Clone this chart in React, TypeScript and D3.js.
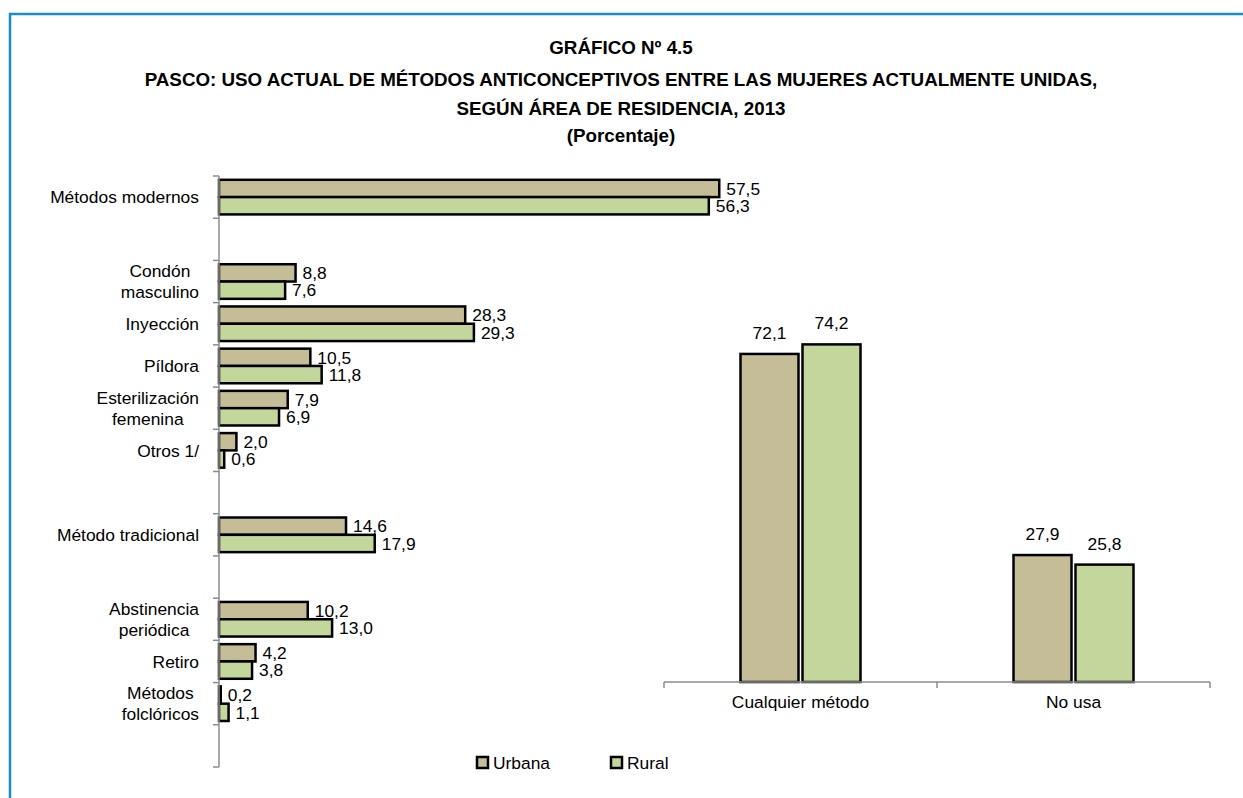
import React, { useEffect, useRef } from "react";
import * as d3 from "d3";

const W = 1243;
const H = 798;

const titleLines = [
  "GRÁFICO Nº 4.5",
  "PASCO: USO ACTUAL DE MÉTODOS ANTICONCEPTIVOS ENTRE LAS MUJERES ACTUALMENTE UNIDAS,",
  "SEGÚN ÁREA DE RESIDENCIA, 2013",
  "(Porcentaje)",
];

const seriesNames = ["Urbana", "Rural"];
const seriesColors = ["#c4bd97", "#c3d69b"];

// Left horizontal bar chart (blank entries are spacer rows)
const leftCategories = [
  ["Métodos modernos"],
  [],
  ["Condón", "masculino"],
  ["Inyección"],
  ["Píldora"],
  ["Esterilización", "femenina"],
  ["Otros 1/"],
  [],
  ["Método tradicional"],
  [],
  ["Abstinencia", "periódica"],
  ["Retiro"],
  ["Métodos", "folclóricos"],
  [],
];
const leftUrbana = [57.5, null, 8.8, 28.3, 10.5, 7.9, 2.0, null, 14.6, null, 10.2, 4.2, 0.2, null];
const leftRural = [56.3, null, 7.6, 29.3, 11.8, 6.9, 0.6, null, 17.9, null, 13.0, 3.8, 1.1, null];

// Right column chart
const rightCategories = ["Cualquier método", "No usa"];
const rightUrbana = [72.1, 27.9];
const rightRural = [74.2, 25.8];

const fmt = d3
  .formatLocale({ decimal: ",", thousands: ".", grouping: [3], currency: ["", ""] })
  .format(".1f");

export default function App() {
  const ref = useRef<SVGSVGElement>(null);

  useEffect(() => {
    const svg = d3.select(ref.current);
    svg.selectAll("*").remove();

    // font detection
    const probe = (fam: string) => {
      const t = svg
        .append("text")
        .attr("font-family", fam)
        .attr("font-size", 20)
        .text("Métodos modernos");
      const w = (t.node() as SVGTextElement).getComputedTextLength();
      t.remove();
      return w;
    };
    const wn = probe("'Liberation Sans Narrow'");
    const wr = probe("'Liberation Sans'");
    const hasNarrow = wn < wr * 0.93;
    const family = hasNarrow
      ? "'Liberation Sans Narrow', 'Liberation Sans', Arial, sans-serif"
      : "'Liberation Sans', Arial, sans-serif";
    const SX = hasNarrow ? 1 : 0.82;
    const FS = 17.4;
    const TFS = 18.8;

    const root = svg.append("g").attr("font-family", family).attr("fill", "#000");

    const addText = (
      g: any,
      x: number,
      y: number,
      str: string,
      size: number,
      anchor: string = "start",
      weight: string = "normal"
    ) => {
      return g
        .append("text")
        .attr("transform", `translate(${x},${y}) scale(${SX},1)`)
        .attr("font-size", size)
        .attr("font-weight", weight)
        .attr("text-anchor", anchor)
        .text(str);
    };

    // frame
    root
      .append("path")
      .attr("d", `M10,${H} L10,14 L${W},14`)
      .attr("fill", "none")
      .attr("stroke", "#1b8cc4")
      .attr("stroke-width", 2.5);

    // title
    const titleBaselines = [54, 86, 115, 142];
    titleLines.forEach((t, i) => {
      addText(root, 621, titleBaselines[i], t, TFS, "middle", "bold");
    });

    // ---------- left chart ----------
    const axisX = 219;
    const yBand = d3
      .scaleBand<number>()
      .domain(d3.range(leftCategories.length))
      .range([176, 767])
      .paddingInner(0)
      .paddingOuter(0);
    const xL = d3.scaleLinear().domain([0, 60]).range([axisX, axisX + 522]);
    const bw = yBand.bandwidth();
    const pad = bw * 0.09;
    const barH = (bw - 2 * pad) / 2;
    const vOff = FS * 0.36;

    const left = root.append("g");
    const leftSeries = [leftUrbana, leftRural];
    leftSeries.forEach((vals, si) => {
      vals.forEach((v, i) => {
        if (v === null) return;
        const y0 = (yBand(i) as number) + pad + si * barH;
        left
          .append("rect")
          .attr("x", xL(0))
          .attr("y", y0)
          .attr("width", xL(v) - xL(0))
          .attr("height", barH)
          .attr("fill", seriesColors[si])
          .attr("stroke", "#000")
          .attr("stroke-width", 2.5);
        addText(left, xL(v) + 7, y0 + barH / 2 + vOff, fmt(v), FS, "start");
      });
    });

    // axis
    const tickYs = d3.range(leftCategories.length + 1).map((i) =>
      i < leftCategories.length ? (yBand(i) as number) : 767
    );
    left
      .append("line")
      .attr("x1", axisX)
      .attr("x2", axisX)
      .attr("y1", 176)
      .attr("y2", 767)
      .attr("stroke", "#8c8c8c")
      .attr("stroke-width", 1.5);
    tickYs.forEach((y) => {
      left
        .append("line")
        .attr("x1", axisX - 6)
        .attr("x2", axisX)
        .attr("y1", y)
        .attr("y2", y)
        .attr("stroke", "#8c8c8c")
        .attr("stroke-width", 1.5);
    });

    // category labels
    const labelRight = 199;
    const lineH = 21;
    leftCategories.forEach((lines, i) => {
      if (!lines.length) return;
      const cy = (yBand(i) as number) + bw / 2;
      if (lines.length === 1) {
        addText(left, labelRight, cy + vOff, lines[0], FS, "end");
      } else {
        const ws = lines.map((l) => {
          const t = addText(left, 0, 0, l, FS, "start");
          const w = (t.node() as SVGTextElement).getComputedTextLength() * SX;
          t.remove();
          return w;
        });
        const maxW = Math.max(...ws);
        const cx = labelRight - maxW / 2;
        lines.forEach((l, li) => {
          const by = cy + vOff + (li - (lines.length - 1) / 2) * lineH;
          addText(left, cx, by, l, FS, "middle");
        });
      }
    });

    // ---------- right chart ----------
    const baseY = 682;
    const xR = d3.scaleBand<string>().domain(rightCategories).range([664, 1210]);
    const yR = d3.scaleLinear().domain([0, 80]).range([baseY, baseY - 364]);
    const right = root.append("g");
    const colW = 58;
    const colGap = 4;
    const rightSeries = [rightUrbana, rightRural];
    rightSeries.forEach((vals, si) => {
      vals.forEach((v, i) => {
        const c = rightCategories[i];
        const cx = (xR(c) as number) + xR.bandwidth() / 2;
        const x0 = si === 0 ? cx - colGap / 2 - colW : cx + colGap / 2;
        right
          .append("rect")
          .attr("x", x0)
          .attr("y", yR(v))
          .attr("width", colW)
          .attr("height", baseY - yR(v))
          .attr("fill", seriesColors[si])
          .attr("stroke", "#000")
          .attr("stroke-width", 2.5);
        addText(right, x0 + colW / 2, yR(v) - 15, fmt(v), FS, "middle");
      });
    });
    right
      .append("line")
      .attr("x1", 664)
      .attr("x2", 1210)
      .attr("y1", baseY)
      .attr("y2", baseY)
      .attr("stroke", "#8c8c8c")
      .attr("stroke-width", 1.5);
    [664, 664 + xR.bandwidth(), 1210].forEach((x) => {
      right
        .append("line")
        .attr("x1", x)
        .attr("x2", x)
        .attr("y1", baseY)
        .attr("y2", baseY + 6)
        .attr("stroke", "#8c8c8c")
        .attr("stroke-width", 1.5);
    });
    rightCategories.forEach((c) => {
      addText(right, (xR(c) as number) + xR.bandwidth() / 2, 708, c, FS, "middle");
    });

    // ---------- legend ----------
    const legend = root.append("g");
    const legX = [477, 611];
    seriesNames.forEach((n, i) => {
      legend
        .append("rect")
        .attr("x", legX[i])
        .attr("y", 757)
        .attr("width", 11)
        .attr("height", 11)
        .attr("fill", seriesColors[i])
        .attr("stroke", "#000")
        .attr("stroke-width", 2.5);
      addText(legend, legX[i] + 16, 768.5, n, FS, "start");
    });
  }, []);

  return (
    <svg
      ref={ref}
      width={W}
      height={H}
      style={{ position: "absolute", left: 0, top: 0, background: "#fff" }}
    />
  );
}
